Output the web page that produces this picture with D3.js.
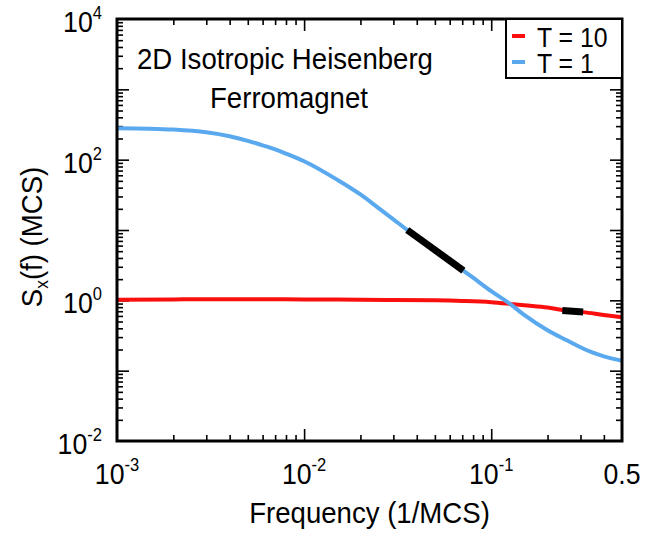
<!DOCTYPE html>
<html>
<head>
<meta charset="utf-8">
<script src="https://cdn.jsdelivr.net/npm/d3@7"></script>
<style>
  body { margin: 0; background: #fff; }
  svg text { font-family: "Liberation Sans", Arial, sans-serif; fill: #000; }
</style>
</head>
<body>
<div id="chart"></div>
<script>
// T = 1 curve (blue)
const blueFreq = [0.001, 0.0015, 0.002, 0.003, 0.004, 0.005, 0.006, 0.007, 0.008, 0.01,
                  0.015, 0.02, 0.025, 0.03, 0.0356, 0.04, 0.05, 0.06, 0.071, 0.08,
                  0.1, 0.126, 0.15, 0.2, 0.25, 0.3, 0.35, 0.4, 0.45, 0.5];
const blueS = [280, 276, 268, 245, 215, 185, 160, 140, 122, 95,
               52, 32, 20.5, 14.2, 10, 8.1, 5.3, 3.7, 2.65, 2.1,
               1.35, 0.89, 0.62, 0.375, 0.275, 0.215, 0.18, 0.16, 0.147, 0.138];

// T = 10 curve (red)
const redFreq = [0.001, 0.002, 0.003, 0.005, 0.007, 0.01, 0.015, 0.02, 0.03, 0.05,
                 0.07, 0.1, 0.126, 0.15, 0.2, 0.24, 0.31, 0.4, 0.5];
const redS = [1.02, 1.03, 1.04, 1.04, 1.035, 1.03, 1.025, 1.02, 1.01, 1.0,
              0.98, 0.94, 0.89, 0.85, 0.79, 0.73, 0.68, 0.62, 0.575];

// fitted segments (black)
const fitBlueFreq = [0.0356, 0.071];
const fitBlueS = [10, 2.65];
const fitRedFreq = [0.24, 0.31];
const fitRedS = [0.715, 0.685];

const legendLabels = ["T = 10", "T = 1"];
const xLabels = [[0.001, "10", "-3"], [0.01, "10", "-2"], [0.1, "10", "-1"], [0.5, "0.5", ""]];
const yLabels = [[1e4, "10", "4"], [1e2, "10", "2"], [1, "10", "0"], [1e-2, "10", "-2"]];

const width = 647;
const height = 535;
const margin = { top: 19, right: 25, bottom: 94, left: 117 };
const w = width - margin.left - margin.right;
const h = height - margin.top - margin.bottom;
const squeeze = 0.92; // glyphs in the original look a little condensed

const svg = d3.select("#chart")
    .append("svg")
    .attr("width", width)
    .attr("height", height);

const g = svg.append("g")
    .attr("transform", "translate(" + margin.left + "," + margin.top + ")");

const x = d3.scaleLog().domain([0.001, 0.5]).range([0, w]);
const y = d3.scaleLog().domain([0.01, 1e4]).range([h, 0]);

// minor / major tick values
let xMinor = [];
for (let p = -3; p <= -1; p++)
    for (let m = 2; m <= 9; m++) {
        const v = m * Math.pow(10, p);
        if (v < 0.5) xMinor.push(v);
    }
const xMajor = [0.01, 0.1];
let yMinor = [];
for (let p = -2; p <= 3; p++)
    for (let m = 2; m <= 9; m++) yMinor.push(m * Math.pow(10, p));
const yMajor = [0.1, 1, 10, 100, 1000];

function tickAxis(axisFn, scale, values, size, tr) {
    const a = g.append("g")
        .attr("transform", tr)
        .call(axisFn(scale).tickValues(values).tickSize(size).tickFormat(""));
    a.select(".domain").remove();
    a.selectAll(".tick line").attr("stroke", "#000").attr("stroke-width", 1.6);
}

tickAxis(d3.axisBottom, x, xMinor, -6, "translate(0," + h + ")");
tickAxis(d3.axisBottom, x, xMajor, -12, "translate(0," + h + ")");
tickAxis(d3.axisTop, x, xMinor, -6, "translate(0,0)");
tickAxis(d3.axisTop, x, xMajor, -12, "translate(0,0)");
tickAxis(d3.axisLeft, y, yMinor, -6, "translate(0,0)");
tickAxis(d3.axisLeft, y, yMajor, -12, "translate(0,0)");
tickAxis(d3.axisRight, y, yMinor, -6, "translate(" + w + ",0)");
tickAxis(d3.axisRight, y, yMajor, -12, "translate(" + w + ",0)");

// curves
const line = d3.line()
    .x(d => x(d[0]))
    .y(d => y(d[1]))
    .curve(d3.curveMonotoneX);

g.append("path")
    .datum(redFreq.map((f, i) => [f, redS[i]]))
    .attr("d", line)
    .attr("fill", "none")
    .attr("stroke", "#fa0f0f")
    .attr("stroke-width", 4);

g.append("path")
    .datum(blueFreq.map((f, i) => [f, blueS[i]]))
    .attr("d", line)
    .attr("fill", "none")
    .attr("stroke", "#5aa9ef")
    .attr("stroke-width", 4);

g.append("path")
    .datum(fitBlueFreq.map((f, i) => [f, fitBlueS[i]]))
    .attr("d", line)
    .attr("stroke", "#000")
    .attr("stroke-width", 7);

g.append("path")
    .datum(fitRedFreq.map((f, i) => [f, fitRedS[i]]))
    .attr("d", line)
    .attr("stroke", "#000")
    .attr("stroke-width", 7);

// frame
g.append("rect")
    .attr("width", w)
    .attr("height", h)
    .attr("fill", "none")
    .attr("stroke", "#000")
    .attr("stroke-width", 3);

// text placed at (tx, ty) and squeezed horizontally
function txt(parent, tx, ty, size, anchor) {
    return parent.append("text")
        .attr("transform", "translate(" + tx + "," + ty + ") scale(" + squeeze + ",1)")
        .attr("text-anchor", anchor)
        .attr("font-size", size);
}

// tick labels
xLabels.forEach(d => {
    const t = txt(g, x(d[0]), h + 43, 29, "middle");
    t.append("tspan").text(d[1]);
    if (d[2]) t.append("tspan").attr("dy", -13).attr("font-size", 18).text(d[2]);
});

yLabels.forEach(d => {
    const t = txt(g, -15, y(d[0]) + 13, 29, "end");
    t.append("tspan").text(d[1]);
    t.append("tspan").attr("dy", -13).attr("font-size", 18).text(d[2]);
});

// axis titles
txt(svg, margin.left + w / 2, 523, 30, "middle")
    .text("Frequency (1/MCS)");

const yt = svg.append("text")
    .attr("transform", "translate(42,237) rotate(-90) scale(" + squeeze + ",1)")
    .attr("text-anchor", "middle")
    .attr("font-size", 30);
yt.append("tspan").text("S");
yt.append("tspan").attr("dy", 6).attr("font-size", 19).text("x");
yt.append("tspan").attr("dy", -6).text("(f) (MCS)");

// annotation
txt(g, 20, 50, 30, "start").text("2D Isotropic Heisenberg");
txt(g, 93, 89, 30, "start").text("Ferromagnet");

// legend
const colors = ["#fa0f0f", "#5aa9ef"];
const leg = g.append("g")
    .attr("transform", "translate(" + (w - 116) + ",0)");
leg.append("rect")
    .attr("width", 116)
    .attr("height", 59)
    .attr("fill", "#fff")
    .attr("stroke", "#000")
    .attr("stroke-width", 2);
legendLabels.forEach((lab, i) => {
    leg.append("line")
        .attr("x1", 6).attr("x2", 19)
        .attr("y1", 17 + i * 26).attr("y2", 17 + i * 26)
        .attr("stroke", colors[i])
        .attr("stroke-width", 4);
    txt(leg, 31, 28 + i * 26, 27, "start").text(lab);
});
</script>
</body>
</html>
